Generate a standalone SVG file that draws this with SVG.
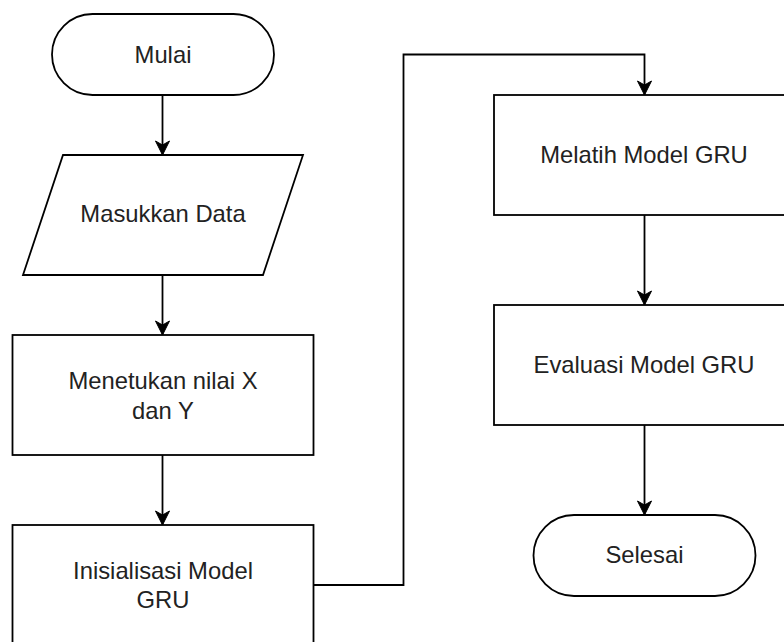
<svg xmlns="http://www.w3.org/2000/svg" width="784" height="642" viewBox="0 0 784 642">
<style>
.shape{fill:#fff;stroke:#000;stroke-width:1.8}
.conn{fill:none;stroke:#000;stroke-width:1.8}
.lbl{font-family:"Liberation Sans",Arial,Helvetica,sans-serif;font-size:23.8px;fill:#222;text-anchor:middle}
</style>
<defs>
<marker id="arr" markerUnits="userSpaceOnUse" markerWidth="16" markerHeight="16" refX="14" refY="7" orient="auto" overflow="visible">
<path d="M0,0 L14,7 L0,14 L4,7 z" fill="#000" stroke="#000" stroke-width="1"/>
</marker>
</defs>
<rect width="784" height="642" fill="#fff"/>
<g id="connectors">
<path class="conn" d="M162.5,95 L162.5,155" marker-end="url(#arr)"/>
<path class="conn" d="M162.5,275 L162.5,335" marker-end="url(#arr)"/>
<path class="conn" d="M162.5,455 L162.5,525" marker-end="url(#arr)"/>
<path class="conn" d="M313,585 L403.5,585 L403.5,54.5 L644.5,54.5 L644.5,95" marker-end="url(#arr)"/>
<path class="conn" d="M644.5,215 L644.5,305" marker-end="url(#arr)"/>
<path class="conn" d="M644.5,425 L644.5,515" marker-end="url(#arr)"/>
</g>
<g id="mulai">
<rect class="shape" x="52" y="14" width="222" height="81" rx="40.5" ry="40.5"/>
<text class="lbl" x="163" y="63">Mulai</text>
</g>
<g id="masukkan-data">
<path class="shape" d="M63,155 L303,155 L263,275 L23,275 z"/>
<text class="lbl" x="163" y="222">Masukkan Data</text>
</g>
<g id="menetukan">
<rect class="shape" x="12.5" y="335" width="301" height="120"/>
<text class="lbl" x="163" y="389">Menetukan nilai X</text>
<text class="lbl" x="163" y="419">dan Y</text>
</g>
<g id="inisialisasi">
<rect class="shape" x="12.5" y="525" width="301" height="125"/>
<text class="lbl" x="163" y="579">Inisialisasi Model</text>
<text class="lbl" x="163" y="608">GRU</text>
</g>
<g id="melatih">
<rect class="shape" x="494" y="95" width="301" height="120"/>
<text class="lbl" x="644" y="163">Melatih Model GRU</text>
</g>
<g id="evaluasi">
<rect class="shape" x="494" y="305" width="301" height="120"/>
<text class="lbl" x="644" y="373">Evaluasi Model GRU</text>
</g>
<g id="selesai">
<rect class="shape" x="533.5" y="515" width="222" height="81" rx="40.5" ry="40.5"/>
<text class="lbl" x="644.5" y="563">Selesai</text>
</g>
</svg>
